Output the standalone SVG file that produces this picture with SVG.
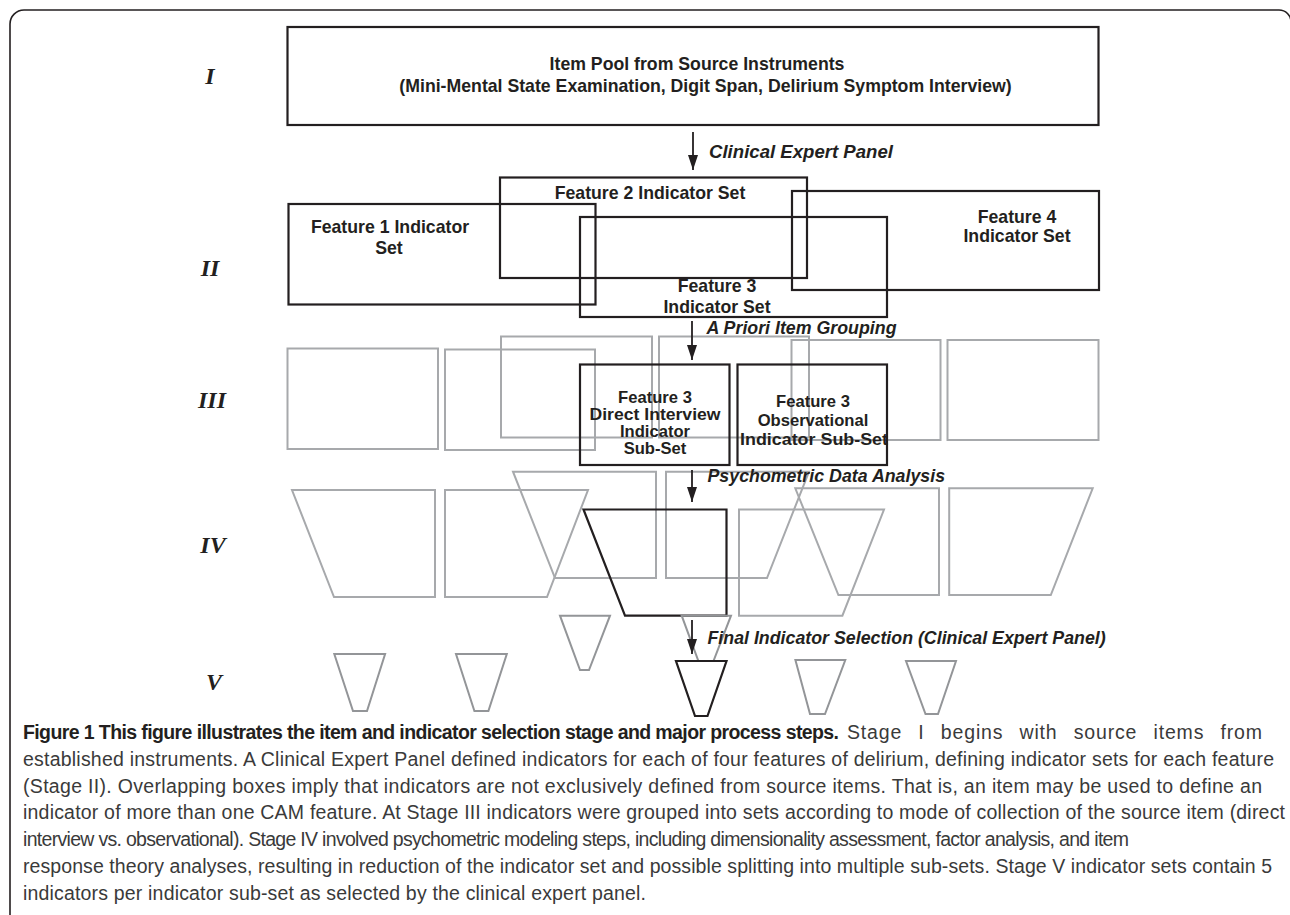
<svg xmlns="http://www.w3.org/2000/svg" width="1290" height="915" viewBox="0 0 1290 915">
<defs>
<style>
.bk{fill:none;stroke:#231f20;stroke-width:2.2}
.gr{fill:none;stroke:#a7a9ac;stroke-width:2}
.gv{fill:none;stroke:#939598;stroke-width:2}
.t{font-family:"Liberation Sans",Arial,sans-serif;font-weight:bold;font-size:17.7px;fill:#231f20;text-anchor:middle}
.ts{font-family:"Liberation Sans",Arial,sans-serif;font-weight:bold;font-size:16.6px;fill:#231f20;text-anchor:middle}
.lab{font-family:"Liberation Sans",Arial,sans-serif;font-weight:bold;font-style:italic;font-size:17.8px;fill:#231f20}
.st{font-family:"Liberation Serif","Times New Roman",serif;font-weight:bold;font-style:italic;font-size:24px;fill:#231f20;text-anchor:middle}
.cb{font-family:"Liberation Sans",Arial,sans-serif;font-weight:bold;font-size:19.5px;fill:#231f20}
.cr{font-family:"Liberation Sans",Arial,sans-serif;font-size:19.5px;fill:#3a3a3a}
.conn{stroke:#231f20;stroke-width:1.8;fill:none}
</style>
<marker id="ah" viewBox="0 0 10 15" markerWidth="10" markerHeight="15" refX="5" refY="15" orient="0" markerUnits="userSpaceOnUse">
<path d="M0,0 L10,0 L5,15 Z" fill="#231f20"/>
</marker>
</defs>
<rect width="1290" height="915" fill="#fff"/>
<path d="M10,915 V24 A14,14 0 0 1 24,10 H1279 A12,12 0 0 1 1291,22 V915" fill="none" stroke="#231f20" stroke-width="1.6"/>

<g id="stage-labels">
<text class="st" x="210" y="84">I</text>
<text class="st" x="210" y="276">II</text>
<text class="st" x="212" y="408">III</text>
<text class="st" x="213" y="553">IV</text>
<text class="st" x="214" y="690">V</text>
</g>

<g id="node-item-pool">
<rect class="bk" x="287.5" y="27" width="811" height="98"/>
<text class="t" x="697" y="70">Item Pool from Source Instruments</text>
<text class="t" x="705.5" y="91.5">(Mini-Mental State Examination, Digit Span, Delirium Symptom Interview)</text>
</g>

<g id="node-feature1">
<rect class="bk" x="288.5" y="204" width="307" height="100.5"/>
<text class="t" x="390" y="232.5">Feature 1 Indicator</text>
<text class="t" x="389" y="253.5">Set</text>
</g>
<g id="node-feature2">
<rect class="bk" x="500" y="177.5" width="307" height="100.5"/>
<text class="t" x="650" y="198.5">Feature 2 Indicator Set</text>
</g>
<g id="node-feature3">
<rect class="bk" x="580" y="217" width="307" height="100"/>
<text class="t" x="717" y="292">Feature 3</text>
<text class="t" x="717" y="313">Indicator Set</text>
</g>
<g id="node-feature4">
<rect class="bk" x="792" y="191" width="307" height="99"/>
<text class="t" x="1017" y="222.5">Feature 4</text>
<text class="t" x="1017" y="242">Indicator Set</text>
</g>

<g id="stage3-gray">
<rect class="gr" x="287.5" y="348.5" width="150.5" height="100.5"/>
<rect class="gr" x="445" y="349.5" width="150" height="100.5"/>
<rect class="gr" x="501" y="336.5" width="151" height="101"/>
<rect class="gr" x="659" y="336.5" width="150" height="101"/>
<rect class="gr" x="791.5" y="340" width="149" height="100"/>
<rect class="gr" x="947.5" y="340" width="151" height="100"/>
</g>
<g id="node-f3-direct">
<rect class="bk" x="580" y="364.5" width="149.5" height="100.5"/>
<text class="ts" x="655" y="403">Feature 3</text>
<text class="ts" x="655" y="419.5" textLength="131" lengthAdjust="spacingAndGlyphs">Direct Interview</text>
<text class="ts" x="655" y="436.5">Indicator</text>
<text class="ts" x="655" y="454">Sub-Set</text>
</g>
<g id="node-f3-observational">
<rect class="bk" x="737.5" y="364.5" width="149.5" height="100.5"/>
<text class="ts" x="813" y="407">Feature 3</text>
<text class="ts" x="813" y="426">Observational</text>
<text class="ts" x="814" y="444.5" textLength="148" lengthAdjust="spacingAndGlyphs">Indicator Sub-Set</text>
</g>

<g id="stage4-gray">
<polygon class="gr" points="292,490 435,490 435,597 334,597"/>
<polygon class="gr" points="445,490 588,490 547,597 445,597"/>
<polygon class="gr" points="513,471.7 656,471.7 656,578 555,578"/>
<polygon class="gr" points="666,471.7 809,471.7 767,578 666,578"/>
<polygon class="gr" points="739,509.5 884,509.5 842.4,615.7 739,615.7"/>
<polygon class="gr" points="795.3,488.3 939,488.3 939,595 838.4,595"/>
<polygon class="gr" points="949.2,488.3 1092.7,488.3 1050.8,595 949.2,595"/>
</g>
<g id="node-f3-reduced">
<polygon class="bk" points="583.5,509.5 726.5,509.5 726.5,615.7 625,615.7"/>
</g>

<g id="stage5-gray">
<polygon class="gv" points="334.3,654 385.1,654 367,711 353,711"/>
<polygon class="gv" points="456,654 506.8,654 488.4,711 474.4,711"/>
<polygon class="gv" points="560,615.7 610,615.7 589,670 580,670"/>
<polygon class="gv" points="681.7,615.7 731,615.7 710,670 701.7,670"/>
<polygon class="gv" points="795.4,660 845.3,660 825,714 810,714"/>
<polygon class="gv" points="906,661 956,661 938,714 925.5,714"/>
</g>
<g id="node-f3-final">
<polygon class="bk" points="676,661 726.5,661 707.5,716 695,716" style="fill:#fff"/>
</g>

<g id="connectors">
<line class="conn" x1="693" y1="132" x2="693" y2="170" marker-end="url(#ah)"/>
<line class="conn" x1="692" y1="321" x2="692" y2="360" marker-end="url(#ah)"/>
<line class="conn" x1="692" y1="470" x2="692" y2="502" marker-end="url(#ah)"/>
<line class="conn" x1="692" y1="620" x2="692" y2="654" marker-end="url(#ah)"/>
<text class="lab" x="709" y="158" textLength="184" lengthAdjust="spacingAndGlyphs">Clinical Expert Panel</text>
<text class="lab" x="706.5" y="334">A Priori Item Grouping</text>
<text class="lab" x="707.5" y="482">Psychometric Data Analysis</text>
<text class="lab" x="707.5" y="643.5">Final Indicator Selection (Clinical Expert Panel)</text>
</g>

<g id="caption">
<text class="cb" x="23" y="739" textLength="816" lengthAdjust="spacing">Figure 1 This figure illustrates the item and indicator selection stage and major process steps.</text>
<text class="cr" x="847" y="739" word-spacing="10" textLength="415" lengthAdjust="spacing">Stage I begins with source items from</text>
<text class="cr" x="23" y="765.8" textLength="1251" lengthAdjust="spacing">established instruments. A Clinical Expert Panel defined indicators for each of four features of delirium, defining indicator sets for each feature</text>
<text class="cr" x="23" y="792.6" textLength="1239" lengthAdjust="spacing">(Stage II). Overlapping boxes imply that indicators are not exclusively defined from source items. That is, an item may be used to define an</text>
<text class="cr" x="23" y="819.4" textLength="1262" lengthAdjust="spacing">indicator of more than one CAM feature. At Stage III indicators were grouped into sets according to mode of collection of the source item (direct</text>
<text class="cr" x="23" y="846.2" textLength="1106" lengthAdjust="spacing">interview vs. observational). Stage IV involved psychometric modeling steps, including dimensionality assessment, factor analysis, and item</text>
<text class="cr" x="23" y="873" textLength="1249" lengthAdjust="spacing">response theory analyses, resulting in reduction of the indicator set and possible splitting into multiple sub-sets. Stage V indicator sets contain 5</text>
<text class="cr" x="23" y="899.8" textLength="623" lengthAdjust="spacing">indicators per indicator sub-set as selected by the clinical expert panel.</text>
</g>
</svg>
